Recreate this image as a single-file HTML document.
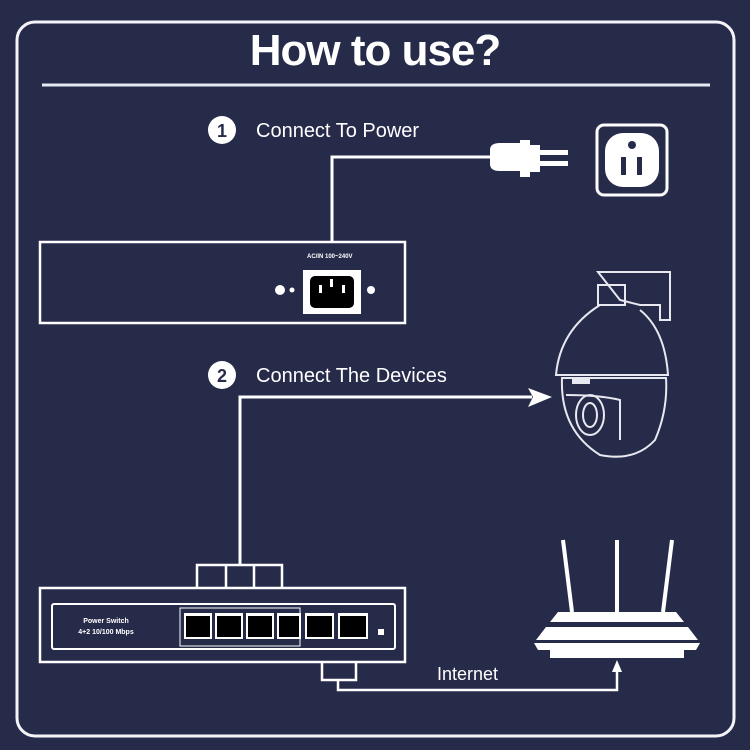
<!DOCTYPE html>
<html><head><style>
body{margin:0;background:#272b4a;}
svg{display:block}
text{font-family:"Liberation Sans",sans-serif;fill:#fff}
</style></head><body>
<svg width="750" height="750" viewBox="0 0 750 750">
<rect width="750" height="750" fill="#272b4a"/>
<rect x="17" y="22" width="717" height="714" rx="18" fill="none" stroke="#f4f4f8" stroke-width="3"/>
<text x="375" y="65" font-size="44" font-weight="bold" text-anchor="middle" letter-spacing="-1">How to use?</text>
<line x1="42" y1="85" x2="710" y2="85" stroke="#e6e8f4" stroke-width="3"/>
<!-- step 1 -->
<circle cx="222" cy="130" r="14" fill="#fff"/>
<text x="222" y="137" font-size="18" font-weight="bold" text-anchor="middle" style="fill:#272b4a">1</text>
<text x="256" y="137" font-size="20">Connect To Power</text>
<path d="M332 242 V157 H492" fill="none" stroke="#fff" stroke-width="3"/>
<path d="M490 150 Q490 143 500 143 H520 V140 H530 V145 H540 V172 H530 V177 H520 V171 H500 Q490 171 490 164Z" fill="#fff"/>
<rect x="540" y="150" width="28" height="5" fill="#fff"/>
<rect x="540" y="161" width="28" height="5" fill="#fff"/>
<rect x="597" y="125" width="70" height="70" rx="7" fill="none" stroke="#fff" stroke-width="3"/>
<rect x="605" y="133" width="54" height="54" rx="18" fill="#fff"/>
<circle cx="632" cy="145" r="4" fill="#272b4a"/>
<rect x="621" y="157" width="5" height="18" fill="#272b4a"/>
<rect x="637" y="157" width="5" height="18" fill="#272b4a"/>
<rect x="40" y="242" width="365" height="81" fill="none" stroke="#fff" stroke-width="2.5"/>
<text x="307" y="258" font-size="6" font-weight="bold">AC/IN 100~240V</text>
<rect x="303" y="270" width="58" height="44" fill="#fff"/>
<rect x="310" y="276" width="44" height="32" rx="5" fill="#000"/>
<rect x="330" y="279" width="3" height="8" fill="#fff"/><rect x="319" y="285" width="3" height="8" fill="#fff"/><rect x="342" y="285" width="3" height="8" fill="#fff"/>
<circle cx="280" cy="290" r="5" fill="#fff"/><circle cx="292" cy="290" r="2.5" fill="#fff"/><circle cx="371" cy="290" r="4" fill="#fff"/>
<!-- camera -->
<g fill="none" stroke="#e8e8f0" stroke-width="2">
<path d="M598 272 H670 V320 H660 V305 H640 L620 300 Z"/>
<path d="M598 285 H625 V305 H598 Z"/>
<path d="M600 305 Q560 330 556 375 H668 Q665 330 640 310"/>
<path d="M562 378 Q560 430 600 455 Q635 462 655 440 Q668 410 666 378 Z"/>
<path d="M566 395 Q600 395 620 400 V440"/>
<ellipse cx="590" cy="415" rx="14" ry="20"/>
<ellipse cx="590" cy="415" rx="7" ry="12"/>
</g>
<rect x="572" y="378" width="18" height="6" fill="#e8e8f0"/>
<!-- step 2 -->
<circle cx="222" cy="375" r="14" fill="#fff"/>
<text x="222" y="382" font-size="18" font-weight="bold" text-anchor="middle" style="fill:#272b4a">2</text>
<text x="256" y="382" font-size="20">Connect The Devices</text>
<path d="M240 565 V397 H532" fill="none" stroke="#fff" stroke-width="3"/>
<path d="M528 388 L552 397 L528 407 L533 397 Z" fill="#fff"/>
<path d="M197 588 V565 H282 V588 M226 565 V588 M254 565 V588" fill="none" stroke="#fff" stroke-width="2.5"/>
<rect x="40" y="588" width="365" height="74" fill="none" stroke="#fff" stroke-width="2.5"/>
<rect x="52" y="604" width="343" height="45" rx="2" fill="none" stroke="#fff" stroke-width="2"/>
<text x="106" y="623" font-size="7" font-weight="bold" text-anchor="middle">Power Switch</text>
<text x="106" y="634" font-size="7" font-weight="bold" text-anchor="middle">4+2 10/100 Mbps</text>
<rect x="180" y="608" width="120" height="38" fill="none" stroke="#fff" stroke-width="1"/>
<g fill="#fff">
<rect x="184" y="613" width="28" height="26"/><rect x="215" y="613" width="28" height="26"/><rect x="246" y="613" width="28" height="26"/><rect x="277" y="613" width="24" height="26"/>
<rect x="305" y="613" width="29" height="26"/><rect x="338" y="613" width="30" height="26"/>
</g>
<g fill="#000">
<path d="M186 616 H210 V637 H186Z"/><path d="M217 616 H241 V637 H217Z"/><path d="M248 616 H272 V637 H248Z"/><path d="M279 616 H299 V637 H279Z"/><path d="M307 616 H332 V637 H307Z"/><path d="M340 616 H366 V637 H340Z"/>
</g>
<rect x="378" y="629" width="6" height="6" fill="#fff"/>
<path d="M322 662 V680 H356 V662 M338 680 V690 H617 V666" fill="none" stroke="#fff" stroke-width="2.5"/>
<path d="M612 672 L617 660 L622 672 Z" fill="#fff"/>
<text x="437" y="680" font-size="18">Internet</text>
<!-- router -->
<g stroke="#fff" stroke-width="4"><line x1="563" y1="540" x2="572" y2="612"/><line x1="617" y1="540" x2="617" y2="612"/><line x1="672" y1="540" x2="663" y2="612"/></g>
<path d="M558 612 H676 L684 622 H550Z" fill="#fff"/>
<path d="M546 627 H688 L698 640 H536Z" fill="#fff"/>
<path d="M534 643 H700 L696 650 H538Z" fill="#fff"/>
<rect x="550" y="650" width="134" height="8" fill="#fff"/>
</svg>
</body></html>
